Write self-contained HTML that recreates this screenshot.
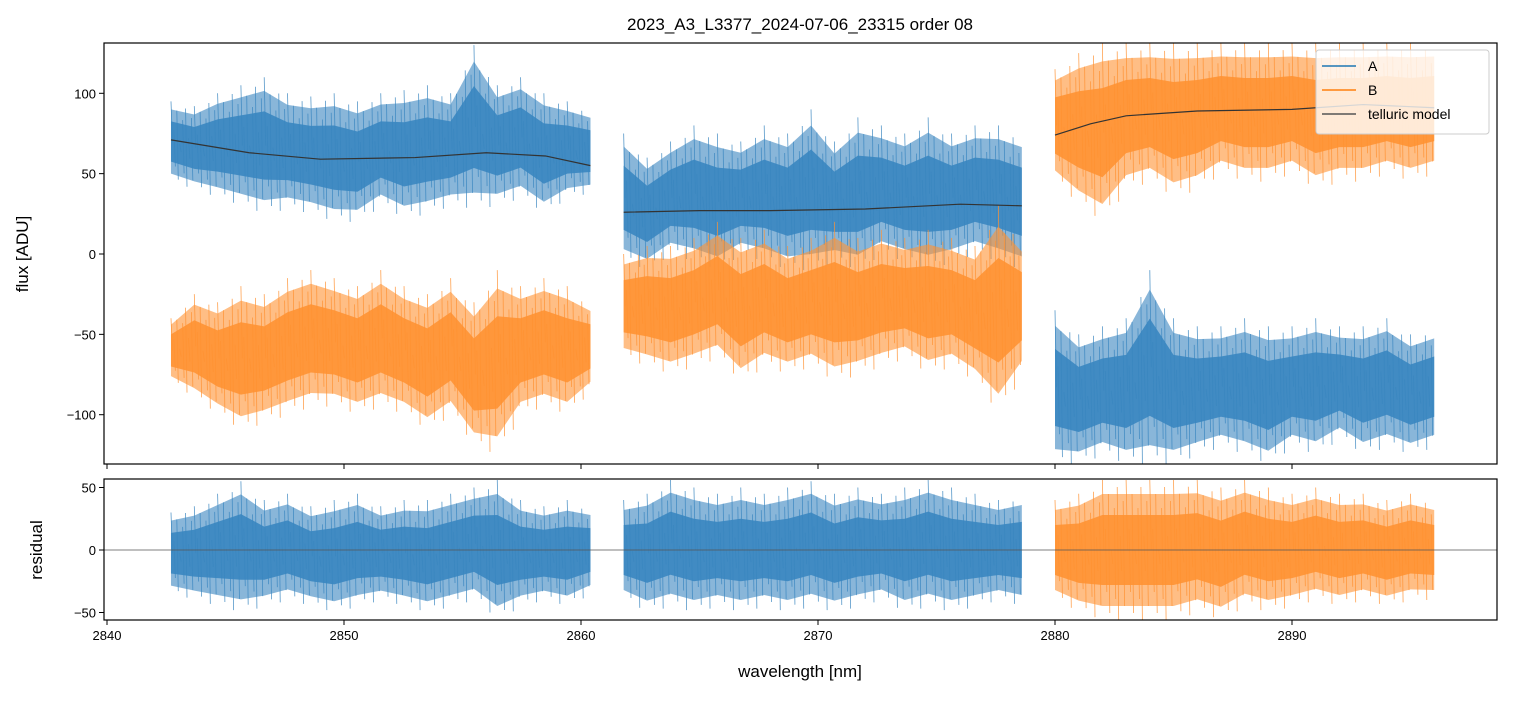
<!DOCTYPE html>
<html><head><meta charset="utf-8"><style>
body{margin:0;background:#fff;font-family:"Liberation Sans",sans-serif}
svg text{font-family:"Liberation Sans",sans-serif;fill:#000}
</style></head><body>
<svg id="c" width="1513" height="696" xmlns="http://www.w3.org/2000/svg">
<rect width="1513" height="696" fill="#fff"/>
<text x="800" y="30" font-size="17" text-anchor="middle">2023_A3_L3377_2024-07-06_23315  order 08</text>
<g id="main"></g>
<g id="res"></g>
</svg>
<script>
// x ranges of segments (nm)
const segX = [[2842.7,2860.4],[2861.8,2878.6],[2880.0,2896.0]];
// flux envelopes (max/min per bin)
const A1hi=[95,92,100,105,110,100,98,100,95,100,102,105,100,130,105,110,100,95,90];
const A1lo=[45,40,35,30,25,28,25,20,20,30,22,25,30,28,30,35,25,35,38];
const B1hi=[-40,-25,-30,-20,-25,-15,-10,-15,-20,-10,-20,-25,-15,-30,-10,-20,-15,-20,-30];
const B1lo=[-80,-90,-100,-110,-105,-100,-95,-95,-100,-95,-100,-110,-100,-120,-125,-100,-95,-100,-85];
const A2hi=[75,60,70,80,75,70,80,75,90,70,85,80,75,85,75,80,80,75];
const A2lo=[-5,-10,0,-5,-10,0,-5,-10,-10,-5,-10,0,-5,-10,-5,0,-5,-10];
const B2hi=[0,5,5,10,20,10,15,5,10,20,10,15,10,15,10,5,30,10];
const B2lo=[-65,-70,-75,-70,-65,-80,-70,-75,-70,-80,-75,-70,-65,-75,-70,-80,-100,-75];
const B3hi=[115,125,131,131,131,131,131,131,131,131,131,131,131,131,131,131,131];
const B3lo=[45,30,20,40,45,35,40,50,45,45,50,40,45,45,50,45,50];
const A3hi=[-35,-50,-45,-40,-10,-40,-45,-45,-40,-45,-45,-40,-45,-45,-40,-50,-45];
const A3lo=[-131,-131,-125,-131,-131,-131,-125,-120,-125,-131,-120,-125,-115,-125,-120,-125,-120];
// residual envelopes
const R1hi=[30,35,45,55,40,45,35,40,45,35,40,40,45,50,56,40,35,40,35];
const R1lo=[-35,-40,-45,-50,-45,-40,-45,-50,-45,-40,-45,-50,-45,-40,-56,-45,-40,-45,-35];
const R2hi=[40,45,56,50,45,50,45,50,55,45,50,45,50,56,50,45,40,45];
const R2lo=[-40,-50,-45,-50,-45,-50,-45,-50,-45,-50,-45,-40,-50,-45,-50,-45,-40,-45];
const R3hi=[40,45,56,56,56,56,56,50,56,50,45,50,45,45,40,45,40];
const R3lo=[-40,-50,-56,-56,-56,-56,-50,-56,-45,-50,-45,-40,-45,-40,-45,-40,-40];
// telluric model
const M1x=[2842.7,2846,2849,2853,2856,2858.5,2860.4], M1y=[71,63,59,60,63,61,55];
const M2x=[2861.8,2865,2868,2872,2876,2878.6], M2y=[26,27,27,28,31,30];
const M3x=[2880,2881.5,2883,2886,2890,2893,2896], M3y=[74,81,86,89,90,93,91];
const xTicks=[2840,2850,2860,2870,2880,2890];
const yTicks=[100,50,0,-50,-100];
const rTicks=[50,0,-50];

const L=104,R=1497, MT=43,MB=464, RT=479,RB=620;
const x=v=>107+(v-2840)*23.7;
const y=v=>254-v*1.607;
const ry=v=>550-v*1.25;
const NS="http://www.w3.org/2000/svg";
function mk(p,t,a){const e=document.createElementNS(NS,t);for(const k in a)e.setAttribute(k,a[k]);p.appendChild(e);return e;}
const main=document.getElementById('main'), res=document.getElementById('res');
const BLUE='#3a86c0', ORG='#ff9233';
mk(document.getElementById('c'),'defs',{}).innerHTML='<clipPath id="cm"><rect x="104" y="43" width="1393" height="421"/></clipPath><clipPath id="cr"><rect x="104" y="479" width="1393" height="141"/></clipPath>';
const gm=mk(main,'g',{'clip-path':'url(#cm)'}), gr=mk(res,'g',{'clip-path':'url(#cr)'});
const jit=[0.0,0.35,0.1,0.5,0.2,0.05,0.4,0.15];
function band(g,seg,hi,lo,col,yf,name){
  const n=hi.length, xs=hi.map((_,i)=>seg[0]+(seg[1]-seg[0])*i/(n-1));
  let pts=xs.map((v,i)=>x(v)+','+yf(hi[i]-(hi[i]-lo[i])*0.1)).concat(xs.map((v,i)=>x(v)+','+yf(lo[i]+(hi[i]-lo[i])*0.1)).reverse());
  let e=mk(g,'polygon',{points:pts.join(' '),fill:col,opacity:0.6});
  
  
  pts=xs.map((v,i)=>x(v)+','+yf(hi[i]-(hi[i]-lo[i])*0.25)).concat(xs.map((v,i)=>x(v)+','+yf(lo[i]+(hi[i]-lo[i])*0.25)).reverse());
  e=mk(g,'polygon',{points:pts.join(' '),fill:col,opacity:0.9});
  
  
  let d='';
  for(let i=0;i<n-1;i++){
    const x0=x(xs[i]),x1=x(xs[i+1]);
    for(let k=0;k<8;k++){
      const f=k/8, xx=x0+(x1-x0)*f;
      const h=hi[i]+(hi[i+1]-hi[i])*f, l=lo[i]+(lo[i+1]-lo[i])*f, w=h-l;
      d+=`M${xx},${yf(h-w*jit[k])}L${xx+(x1-x0)/16},${yf(l+w*jit[(k+3)%8])}`;
    }
  }
  mk(g,'path',{d:d,stroke:col,'stroke-width':0.8,fill:'none',opacity:0.85});
}
band(gm,segX[0],B1hi,B1lo,ORG,y,'series-b-seg1');
band(gm,segX[0],A1hi,A1lo,BLUE,y,'series-a-seg1');
band(gm,segX[1],A2hi,A2lo,BLUE,y,'series-a-seg2');
band(gm,segX[1],B2hi,B2lo,ORG,y,'series-b-seg2');
band(gm,segX[2],A3hi,A3lo,BLUE,y,'series-a-seg3');
band(gm,segX[2],B3hi,B3lo,ORG,y,'series-b-seg3');
[[M1x,M1y],[M2x,M2y],[M3x,M3y]].forEach((m,k)=>{
  const e=mk(gm,'polyline',{points:m[0].map((v,i)=>x(v)+','+y(m[1][i])).join(' '),fill:'none',stroke:'#333',
'stroke-width':1.2});
  
  
});
band(gr,segX[0],R1hi,R1lo,BLUE,ry,'residual-seg1');
band(gr,segX[1],R2hi,R2lo,BLUE,ry,'residual-seg2');
band(gr,segX[2],R3hi,R3lo,ORG,ry,'residual-seg3');
mk(gr,'line',{x1:L,x2:R,y1:ry(0),y2:ry(0),stroke:'#555','stroke-width':0.7});
// frames
mk(main,'rect',{x:L,y:MT,width:R-L,height:MB-MT,fill:'none',stroke:'#000','stroke-width':1.2});
mk(res,'rect',{x:L,y:RT,width:R-L,height:RB-RT,fill:'none',stroke:'#000','stroke-width':1.2});
xTicks.forEach(t=>{
  mk(main,'line',{x1:x(t),x2:x(t),y1:MB,y2:MB+5,stroke:'#000'});
  mk(res,'line',{x1:x(t),x2:x(t),y1:RB,y2:RB+5,stroke:'#000'});
  const e=mk(res,'text',{x:x(t),y:RB+20,'font-size':13,'text-anchor':'middle'});e.textContent=t;
  
  
});
yTicks.forEach(t=>{
  mk(main,'line',{x1:L-5,x2:L,y1:y(t),y2:y(t),stroke:'#000'});
  const e=mk(main,'text',{x:L-8,y:y(t)+5,'font-size':13,'text-anchor':'end'});e.textContent=t<0?'\u2212'+(-t):t;
  
  
});
rTicks.forEach(t=>{
  mk(res,'line',{x1:L-5,x2:L,y1:ry(t),y2:ry(t),stroke:'#000'});
  const e=mk(res,'text',{x:L-8,y:ry(t)+5,'font-size':13,'text-anchor':'end'});e.textContent=t<0?'\u2212'+(-t):t;
  
  
});
let e=mk(res,'text',{x:800,y:677,'font-size':17,'text-anchor':'middle'});e.textContent='wavelength [nm]';


e=mk(main,'text',{x:28,y:254,'font-size':17,'text-anchor':'middle',transform:'rotate(-90 28 254)'});e.textContent='flux [ADU]';


e=mk(res,'text',{x:42,y:550,'font-size':17,'text-anchor':'middle',transform:'rotate(-90 42 550)'});e.textContent='residual';


// legend
const lg=mk(main,'g',{});


mk(lg,'rect',{x:1316,y:50,width:173,height:84,rx:3,fill:'#fff','fill-opacity':0.8,stroke:'#ccc'});
[['A','#1f77b4'],['B','#ff7f0e'],['telluric model','#555']].forEach((it,i)=>{
  const yy=66+i*24;
  mk(lg,'line',{x1:1322,x2:1356,y1:yy,y2:yy,stroke:it[1],'stroke-width':1.5});
  const t=mk(lg,'text',{x:1368,y:yy+5,'font-size':14});t.textContent=it[0];
  
  
});
</script>
</body></html>
